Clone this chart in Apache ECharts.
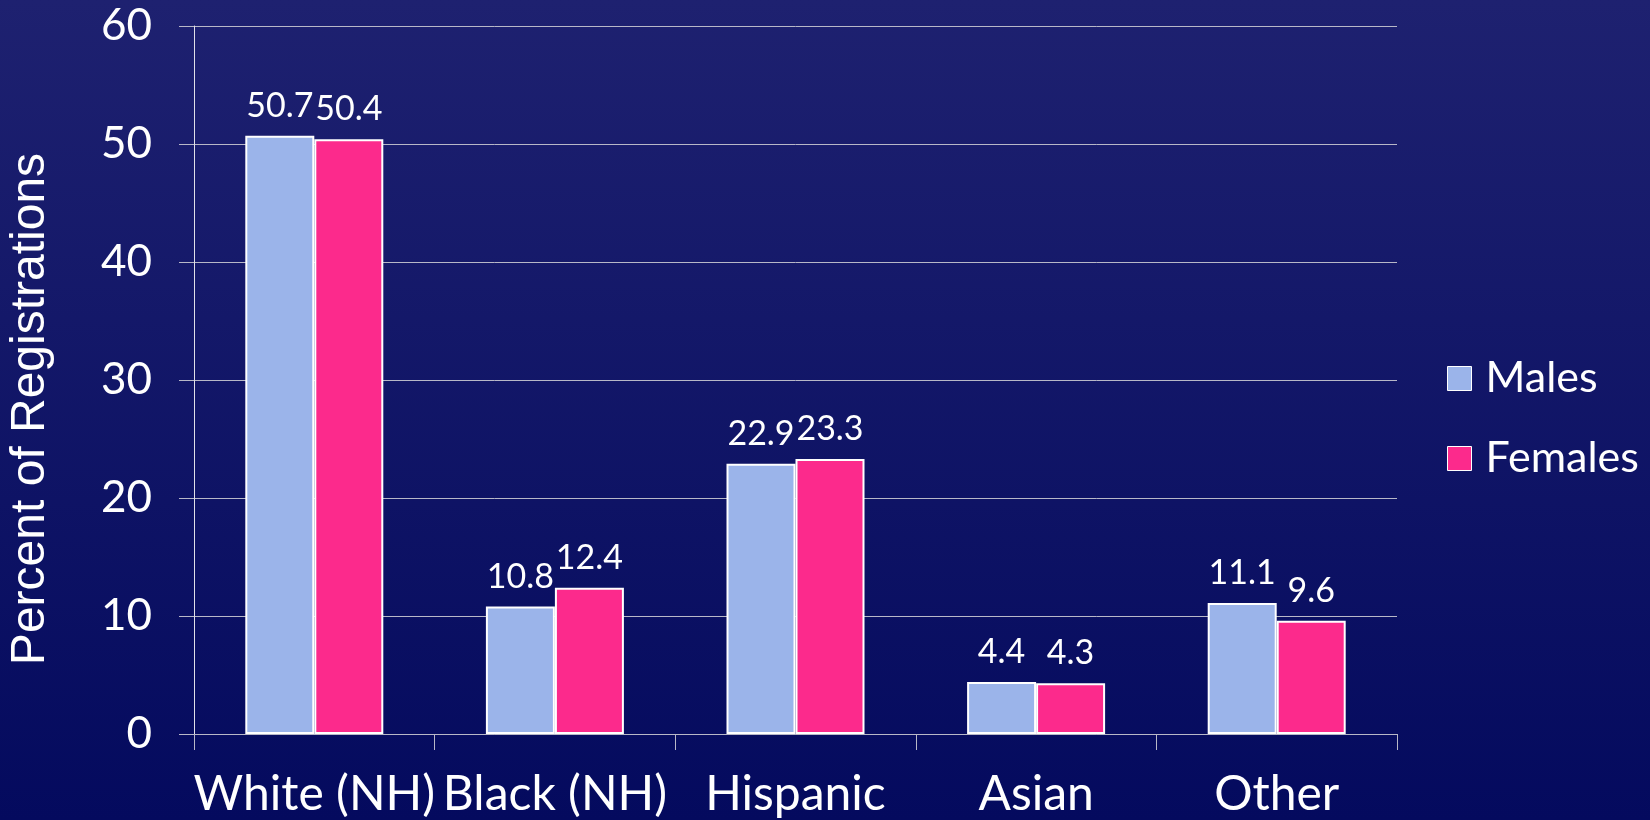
<!DOCTYPE html>
<html>
<head>
<meta charset="utf-8">
<script src="https://cdn.jsdelivr.net/npm/echarts@6/dist/echarts.min.js"></script>
<style>
html,body{margin:0;padding:0;width:1650px;height:820px;overflow:hidden;}
#chart{width:1650px;height:820px;}
</style>
</head>
<body>
<div id="chart"></div>
<script>
const categories = ['White (NH)', 'Black (NH)', 'Hispanic', 'Asian', 'Other'];
const males = [50.7, 10.8, 22.9, 4.4, 11.1];
const females = [50.4, 12.4, 23.3, 4.3, 9.6];
const seriesNames = ['Males', 'Females'];
const yTicks = { min: 0, max: 60, interval: 10 };
const yAxisTitle = 'Percent of Registrations';

const FONT = 'Lato, "Open Sans", sans-serif';
const MALE_COLOR = '#9bb4ea';
const FEMALE_COLOR = '#fc2a8c';

const chart = echarts.init(document.getElementById('chart'), null, { renderer: 'canvas' });

const labelCfg = {
  show: true,
  position: 'top',
  distance: 13,
  color: '#ffffff',
  fontFamily: FONT,
  fontSize: 34
};

chart.setOption({
  backgroundColor: {
    type: 'linear', x: 0, y: 0, x2: 0, y2: 1,
    colorStops: [
      { offset: 0, color: '#1e2170' },
      { offset: 1, color: '#040a5e' }
    ]
  },
  animation: false,
  grid: { left: 194, right: 253, top: 26, bottom: 86, containLabel: false, outerBoundsMode: 'none' },
  legend: {
    data: seriesNames,
    orient: 'vertical',
    left: 1442,
    top: 352,
    icon: 'rect',
    itemWidth: 24,
    itemHeight: 24,
    itemGap: 37,
    itemStyle: { borderColor: '#ffffff', borderWidth: 1 },
    textStyle: { color: '#ffffff', fontFamily: FONT, fontSize: 43, lineHeight: 34, padding: [0, 0, 0, 9] }
  },
  xAxis: {
    type: 'category',
    data: categories,
    axisLine: { show: true, lineStyle: { color: '#b8b8c8', width: 1 } },
    axisTick: { show: true, length: 16, lineStyle: { color: '#b8b8c8', width: 1 } },
    axisLabel: { color: '#ffffff', fontFamily: FONT, fontSize: 48, margin: 37, interval: 0 }
  },
  yAxis: {
    type: 'value',
    min: yTicks.min,
    max: yTicks.max,
    interval: yTicks.interval,
    name: yAxisTitle,
    nameLocation: 'middle',
    nameGap: 139,
    nameRotate: 90,
    nameTextStyle: { color: '#ffffff', fontFamily: '"Liberation Sans", Arial, sans-serif', fontSize: 48, padding: [0, 58, 0, 0] },
    axisLine: { show: true, lineStyle: { color: '#e0e0e8', width: 1 } },
    axisTick: { show: true, length: 15, lineStyle: { color: '#b8b8c8', width: 1 } },
    axisLabel: { color: '#ffffff', fontFamily: FONT, fontSize: 44, margin: 42 },
    splitLine: { show: true, lineStyle: { color: '#b8b8c8', width: 1 } }
  },
  series: [
    {
      name: seriesNames[0],
      type: 'bar',
      data: males,
      barWidth: 69,
      barGap: '0%',
      itemStyle: { color: MALE_COLOR, borderColor: '#ffffff', borderWidth: 2 },
      label: labelCfg
    },
    {
      name: seriesNames[1],
      type: 'bar',
      data: females,
      barWidth: 69,
      itemStyle: { color: FEMALE_COLOR, borderColor: '#ffffff', borderWidth: 2 },
      label: labelCfg
    }
  ]
});
</script>
</body>
</html>
